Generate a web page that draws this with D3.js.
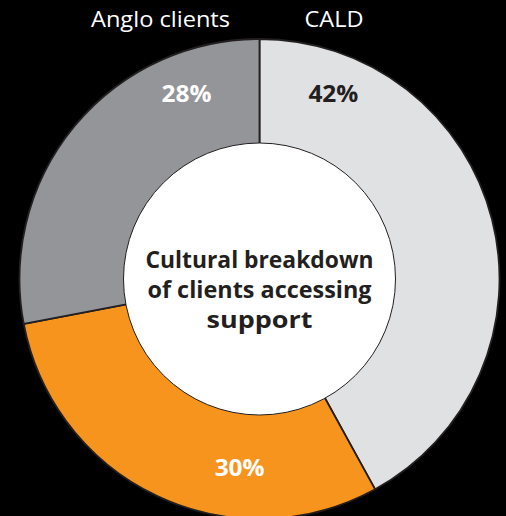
<!DOCTYPE html>
<html>
<head>
<meta charset="utf-8">
<script src="https://cdn.jsdelivr.net/npm/d3@7"></script>
<style>
  html, body { margin: 0; padding: 0; background: #000; }
  svg { display: block; }
</style>
</head>
<body>
<svg id="chart" width="506" height="516"></svg>
<script>
// Share of clients by cultural background (percent)
const categories = ["CALD", "Other", "Anglo clients"];
const values = [42, 30, 28];
const valueLabels = ["42%", "30%", "28%"];
const headingLabels = ["Anglo clients", "CALD"];
const centerLines = ["Cultural breakdown", "of clients accessing", "support"];

const colors = d3.scaleOrdinal()
  .domain(categories)
  .range(["#e0e1e3", "#f7941d", "#939598"]);
const labelColors = d3.scaleOrdinal()
  .domain(categories)
  .range(["#231f20", "#ffffff", "#ffffff"]);

const svg = d3.select("#chart");
const cx = 259.5, cy = 279, outerR = 240, innerR = 136;
const g = svg.append("g").attr("transform", `translate(${cx},${cy})`);

const pie = d3.pie().sort(null).value(d => d.value);
const arcs = pie(categories.map((c, i) => ({ cat: c, value: values[i], label: valueLabels[i] })));
const arc = d3.arc().innerRadius(0).outerRadius(outerR);

g.selectAll("path.slice")
  .data(arcs)
  .join("path")
  .attr("class", "slice")
  .attr("d", arc)
  .attr("fill", d => colors(d.data.cat))
  .attr("stroke", "#231f20")
  .attr("stroke-width", 1.8)
  .attr("stroke-linejoin", "miter");

// white centre disc
g.append("circle")
  .attr("r", innerR)
  .attr("fill", "#ffffff")
  .attr("stroke", "#231f20")
  .attr("stroke-width", 1);

// value labels: placed along each slice at a chosen angle and radius
const labelPlacement = { "CALD": [21.8, 199], "Other": [186, 190], "Anglo clients": [-21.5, 199] };
g.selectAll("text.value")
  .data(arcs)
  .join("text")
  .attr("class", "value")
  .attr("x", d => {
    const [a, r] = labelPlacement[d.data.cat];
    return r * Math.sin(a * Math.PI / 180);
  })
  .attr("y", d => {
    const [a, r] = labelPlacement[d.data.cat];
    return -r * Math.cos(a * Math.PI / 180) + 8;
  })
  .attr("text-anchor", "middle")
  .attr("font-family", "'Open Sans', 'Noto Sans', sans-serif")
  .attr("font-weight", 700)
  .attr("font-size", 24)
  .attr("fill", d => labelColors(d.data.cat))
  .attr("textLength", 50)
  .attr("lengthAdjust", "spacingAndGlyphs")
  .text(d => d.data.label);

// headings above the ring
const headingWidths = [139, 59];
svg.selectAll("text.heading")
  .data(headingLabels)
  .join("text")
  .attr("class", "heading")
  .attr("x", (d, i) => i === 0 ? 160.5 : 334)
  .attr("y", 27)
  .attr("text-anchor", "middle")
  .attr("font-family", "'Open Sans', 'Noto Sans', sans-serif")
  .attr("font-size", 22)
  .attr("fill", "#ffffff")
  .attr("textLength", (d, i) => headingWidths[i])
  .attr("lengthAdjust", "spacingAndGlyphs")
  .text(d => d);

// centre title
const lineWidths = [228, 224, 106];
g.selectAll("text.center")
  .data(centerLines)
  .join("text")
  .attr("class", "center")
  .attr("x", 0)
  .attr("y", (d, i) => -11 + i * 30)
  .attr("text-anchor", "middle")
  .attr("font-family", "'Open Sans', 'Noto Sans', sans-serif")
  .attr("font-weight", 700)
  .attr("font-size", 24)
  .attr("fill", "#231f20")
  .attr("textLength", (d, i) => lineWidths[i])
  .attr("lengthAdjust", "spacingAndGlyphs")
  .text(d => d);
</script>
</body>
</html>
